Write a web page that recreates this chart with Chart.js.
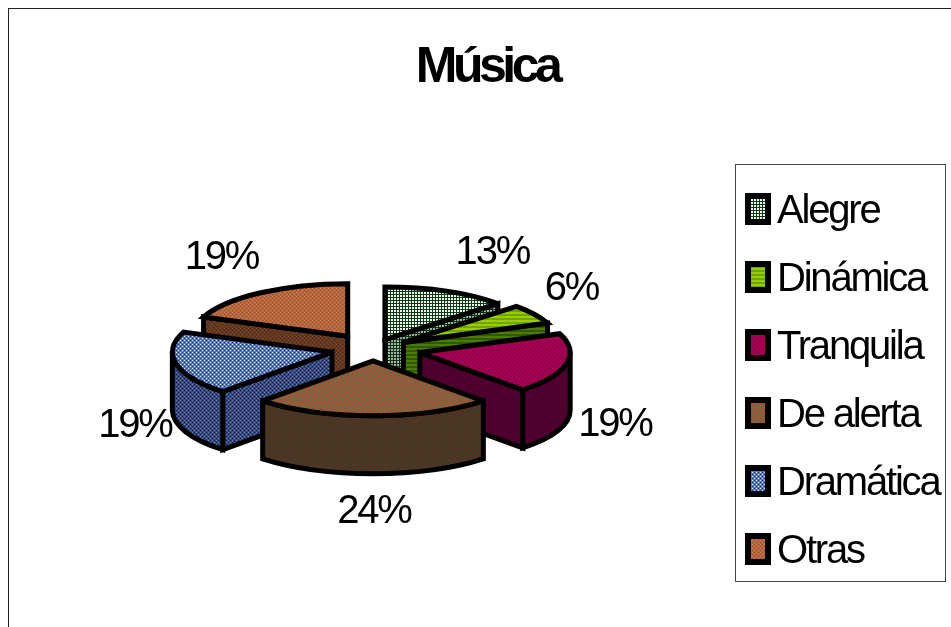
<!DOCTYPE html>
<html>
<head>
<meta charset="utf-8">
<style>
  html, body { margin: 0; background: #fff; }
  canvas { display: block; }
</style>
<script src="https://cdn.jsdelivr.net/npm/chart.js@4/dist/chart.umd.js"></script>
</head>
<body>
<canvas id="chart" width="951" height="627"></canvas>
<script>
const categories = ['Alegre', 'Dinámica', 'Tranquila', 'De alerta', 'Dramática', 'Otras'];
const percentages = [13, 6, 19, 24, 19, 19];
const chartTitle = 'Música';

// slice explosion, as chart.js offsets (applied at half length along the bisector)
const sliceOffsets = [60, 72, 96, 70, 84, 90];
// nearer slices look a little larger
const sliceScales = [1, 1, 0.97, 1.04, 1.03, 1];

const SQUASH = 0.34;
const DEPTH = 58;
const PIE_RADIUS = 155;
const OUTLINE = 5;
const FONT_FAMILY = '"Liberation Sans", Arial, sans-serif';
const LETTER_SPACING = '-2.2px';
const LEGEND_FRAME = { left: 735, top: 164, right: 945, bottom: 581 };
const LEGEND_PADDING = 28;
const LEGEND_FONT = 40;

// percent label placement around each slice
const LABEL_RX = 205;
const LABEL_RY = 95;
const labelNudges = [[26, 1], [-5, -3], [-5, -6], [1, -2], [3, -5], [-11, 0]];

// fine dither fills, rows of colours repeated as a tile
function tile(rows) {
  const c = document.createElement('canvas');
  c.width = rows[0].length;
  c.height = rows.length;
  const g = c.getContext('2d');
  rows.forEach((row, y) => row.forEach((col, x) => {
    g.fillStyle = col;
    g.fillRect(x, y, 1, 1);
  }));
  return g.createPattern(c, 'repeat');
}
const dither = (hi, mid, lo) => tile([
  [hi, mid, lo, mid],
  [mid, mid, mid, mid],
  [lo, mid, hi, mid],
  [mid, mid, mid, mid]
]);
const weave = (line, fill) => tile([
  [line, line, line],
  [line, fill, fill],
  [line, fill, fill]
]);
const bands = (a, b) => tile([[a], [a], [b], [b]]);

const topFills = [
  weave('#0c3c12', '#f4fbf2'),
  bands('#9ccc00', '#6aa800'),
  dither('#b8005c', '#a00050', '#78003c'),
  dither('#d83828', '#8f5c3c', '#2e8a50'),
  dither('#dfe8ff', '#5878c8', '#1c2c80'),
  dither('#d07a50', '#b8663c', '#8a5030')
];
const wallFills = [
  weave('#0e2f14', '#9db59f'),
  bands('#4c7c00', '#305800'),
  dither('#600034', '#500030', '#400024'),
  dither('#7a2c20', '#4a3424', '#1e4a2c'),
  dither('#7088b8', '#34487c', '#101c50'),
  dither('#804a28', '#643820', '#4a2c18')
];

function strokeAndFill(ctx, fill) {
  ctx.fillStyle = fill;
  ctx.fill();
  ctx.stroke();
}

function drawSlice(ctx, arc, index) {
  const { x, y, startAngle, endAngle } = arc;
  const r = arc.outerRadius * sliceScales[index];
  const mid = (startAngle + endAngle) / 2;
  const shift = arc.options.offset / 2;
  const ax = x + Math.cos(mid) * shift;
  const ay = y + Math.sin(mid) * shift * SQUASH;
  const wall = wallFills[index];

  const radialWall = (angle) => {
    const px = ax + r * Math.cos(angle);
    const py = ay + r * SQUASH * Math.sin(angle);
    ctx.beginPath();
    ctx.moveTo(ax, ay);
    ctx.lineTo(px, py);
    ctx.lineTo(px, py + DEPTH);
    ctx.lineTo(ax, ay + DEPTH);
    ctx.closePath();
    strokeAndFill(ctx, wall);
  };

  // only the faces turned towards the viewer
  if (Math.sin(startAngle - Math.PI / 2) > 1e-3) radialWall(startAngle);
  if (Math.sin(endAngle + Math.PI / 2) > 1e-3) radialWall(endAngle);

  const from = Math.max(startAngle, 0);
  const to = Math.min(endAngle, Math.PI);
  if (to > from) {
    ctx.beginPath();
    ctx.ellipse(ax, ay, r, r * SQUASH, 0, from, to);
    ctx.ellipse(ax, ay + DEPTH, r, r * SQUASH, 0, to, from, true);
    ctx.closePath();
    strokeAndFill(ctx, wall);
  }

  ctx.beginPath();
  ctx.moveTo(ax, ay);
  ctx.ellipse(ax, ay, r, r * SQUASH, 0, startAngle, endAngle);
  ctx.closePath();
  strokeAndFill(ctx, arc.options.backgroundColor);
}

function drawPercentLabel(ctx, arc, index) {
  const mid = (arc.startAngle + arc.endAngle) / 2;
  const shift = arc.options.offset / 2;
  const sin = Math.sin(mid);
  const ax = arc.x + Math.cos(mid) * shift;
  const ay = arc.y + sin * shift * SQUASH;
  const lx = ax + Math.cos(mid) * LABEL_RX + labelNudges[index][0];
  const ly = ay + sin * LABEL_RY + (sin > 0 ? DEPTH : 0) + labelNudges[index][1];
  ctx.fillText(percentages[index] + '%', lx, ly);
}

const pie3d = {
  id: 'pie3d',
  beforeLayout(chart) {
    chart.ctx.letterSpacing = LETTER_SPACING;
  },
  afterLayout(chart) {
    // legend sits inside its own frame, the title is off-centre to the right
    const legend = chart.legend;
    legend.left = LEGEND_FRAME.left + 10 - LEGEND_PADDING;
    legend.top = 192 - LEGEND_PADDING;
    legend.bottom = chart.height;

    const title = chart.titleBlock;
    if (!title._spaced) {
      title._spaced = true;
      title.left += 6;
      title.right += 6;
      const drawTitle = title.draw;
      title.draw = function () {
        chart.ctx.save();
        chart.ctx.letterSpacing = '-4.5px';
        drawTitle.call(title);
        chart.ctx.restore();
      };
    }
  },
  beforeDraw(chart) {
    const { ctx, width, height } = chart;
    ctx.letterSpacing = LETTER_SPACING;
    ctx.save();
    ctx.fillStyle = '#fff';
    ctx.fillRect(0, 0, width, height);
    ctx.strokeStyle = '#222';
    ctx.lineWidth = 1;
    ctx.strokeRect(8.5, 8.5, width + 20, height + 20);
    ctx.restore();
  },
  beforeDatasetDraw(chart, args) {
    const ctx = chart.ctx;
    const arcs = args.meta.data;
    // back to front, by how far each slice points towards the viewer
    const order = arcs.map((_, i) => i).sort((a, b) =>
      Math.sin((arcs[a].startAngle + arcs[a].endAngle) / 2) -
      Math.sin((arcs[b].startAngle + arcs[b].endAngle) / 2));
    ctx.save();
    ctx.strokeStyle = '#000';
    ctx.lineWidth = OUTLINE;
    ctx.lineJoin = 'miter';
    ctx.miterLimit = 3;
    order.forEach(i => drawSlice(ctx, arcs[i], i));
    ctx.restore();
    return false;
  },
  afterDraw(chart) {
    const { ctx, legend } = chart;
    const arcs = chart.getDatasetMeta(0).data;
    ctx.save();
    ctx.fillStyle = '#000';
    ctx.font = `${LEGEND_FONT}px ${FONT_FAMILY}`;
    ctx.textAlign = 'center';
    ctx.textBaseline = 'middle';
    arcs.forEach((arc, i) => drawPercentLabel(ctx, arc, i));

    // legend frame and swatches
    ctx.strokeStyle = '#444';
    ctx.lineWidth = 1;
    ctx.strokeRect(LEGEND_FRAME.left + 0.5, LEGEND_FRAME.top + 0.5,
      LEGEND_FRAME.right - LEGEND_FRAME.left, LEGEND_FRAME.bottom - LEGEND_FRAME.top);
    ctx.strokeStyle = '#000';
    ctx.lineWidth = 6;
    legend.legendItems.forEach((item, i) => {
      const cy = legend.top - 3 + LEGEND_PADDING + LEGEND_FONT / 2 + i * (LEGEND_FONT + LEGEND_PADDING);
      ctx.fillStyle = item.fillStyle;
      ctx.beginPath();
      ctx.rect(legend.left + LEGEND_PADDING + 3, cy - 13, 20, 26);
      ctx.fill();
      ctx.stroke();
    });
    ctx.restore();
  }
};

new Chart(document.getElementById('chart'), {
  type: 'pie',
  data: {
    labels: categories,
    datasets: [{
      data: percentages,
      backgroundColor: topFills,
      borderWidth: 0,
      offset: sliceOffsets
    }]
  },
  options: {
    responsive: false,
    animation: false,
    events: [],
    radius: PIE_RADIUS,
    layout: { padding: { left: 11, bottom: 29 } },
    plugins: {
      title: {
        display: true,
        text: chartTitle,
        color: '#000',
        font: { family: FONT_FAMILY, size: 50, weight: 'bold', lineHeight: 1.2 },
        padding: { top: 38, bottom: 2 }
      },
      legend: {
        position: 'right',
        align: 'start',
        maxWidth: 216,
        labels: {
          color: '#000',
          boxWidth: 12,
          boxHeight: 12,
          padding: LEGEND_PADDING,
          font: { family: FONT_FAMILY, size: LEGEND_FONT }
        }
      },
      tooltip: { enabled: false }
    }
  },
  plugins: [pie3d]
});
</script>
</body>
</html>
